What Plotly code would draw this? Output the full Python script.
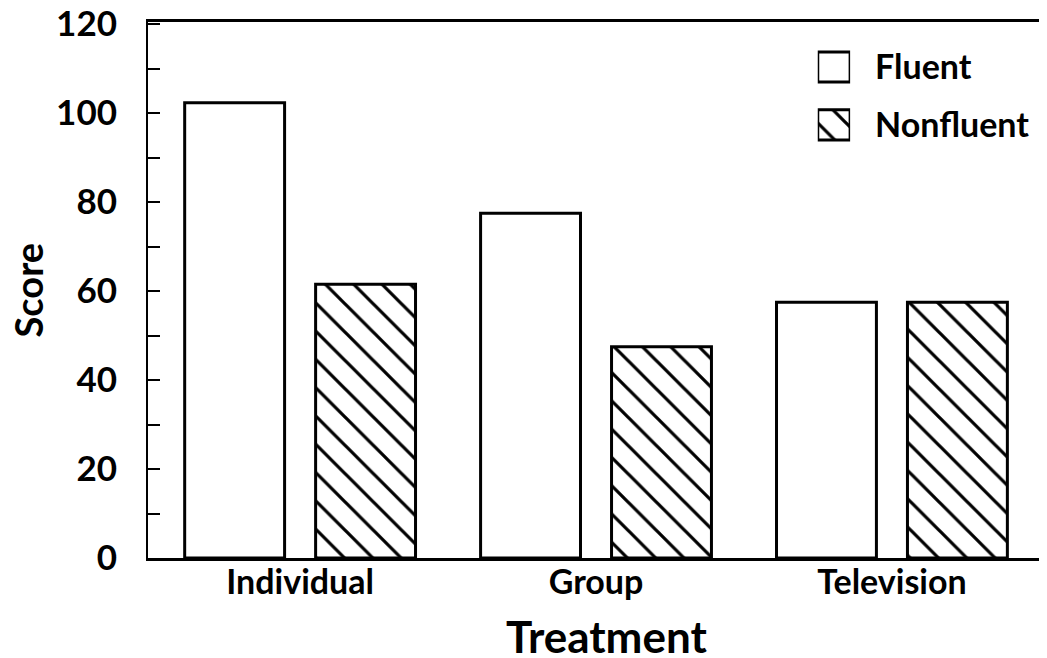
import plotly.graph_objects as go

categories = ["Individual", "Group", "Television"]
fluent = [102.3, 77.5, 57.5]
nonfluent = [61.5, 47.5, 57.5]
y_tick_vals = [0, 10, 20, 30, 40, 50, 60, 70, 80, 90, 100, 110, 120]
y_tick_text = ["0", "", "20", "", "40", "", "60", "", "80", "", "100", "", "120"]
legend_names = ["Fluent", "Nonfluent"]
legend_len = [1, 1]
x_title = "Treatment"
y_title = "Score"

FONT = "Lato, Roboto, sans-serif"
HATCH = dict(shape="\\", size=20, solidity=0.16, fgcolor="#000000", bgcolor="#ffffff",
             fgopacity=1, fillmode="replace")
OUTLINE = dict(color="black", width=3)

fig = go.Figure()
fig.add_trace(go.Bar(
    x=categories, y=fluent, name="Fluent", showlegend=False,
    marker=dict(color="white", line=OUTLINE),
))
fig.add_trace(go.Bar(
    x=categories, y=nonfluent, name="Nonfluent", showlegend=False,
    marker=dict(color="white", line=OUTLINE, pattern=HATCH),
))
# legend swatches drawn on a small key axis
fig.add_trace(go.Bar(
    y=[legend_names[0]], x=[legend_len[0]], orientation="h", xaxis="x2", yaxis="y2",
    showlegend=False, hoverinfo="skip",
    marker=dict(color="white", line=OUTLINE),
))
fig.add_trace(go.Bar(
    y=[legend_names[1]], x=[legend_len[1]], orientation="h", xaxis="x2", yaxis="y2",
    showlegend=False, hoverinfo="skip",
    marker=dict(color="white", line=OUTLINE, pattern=HATCH),
))

fig.update_layout(
    width=1039, height=650,
    margin=dict(l=140, r=0, t=14, b=100),
    paper_bgcolor="white", plot_bgcolor="white",
    barmode="group", bargap=0.115, bargroupgap=0.237,
    font=dict(family=FONT, color="black", size=34, weight="bold"),
    xaxis=dict(
        range=[-0.514, 2.524],
        showline=True, linecolor="black", linewidth=3, mirror=True,
        showgrid=False, ticks="", automargin=False,
        tickfont=dict(size=34, family=FONT, weight="bold"),
        ticklabelstandoff=-8,
    ),
    yaxis=dict(
        range=[0, 120.45], showline=True, linecolor="black", linewidth=2,
        showgrid=False, zeroline=False, automargin=False,
        tickmode="array", tickvals=y_tick_vals, ticktext=y_tick_text,
        ticks="inside", ticklen=12, tickwidth=2, tickcolor="black",
        ticklabelstandoff=22, ticklabeloverflow="allow",
        tickfont=dict(size=35, family=FONT, weight="bold"),
    ),
    xaxis2=dict(domain=[0.745, 0.781], anchor="y2", range=[0, 1],
                visible=False, fixedrange=True),
    yaxis2=dict(domain=[0.754, 0.970], anchor="x2", side="right",
                autorange="reversed", type="category",
                showline=False, showgrid=False, zeroline=False, ticks="",
                ticklabelstandoff=24, automargin=False, fixedrange=True,
                tickfont=dict(size=34, family=FONT, weight="bold")),
    annotations=[
        dict(text=x_title, xref="paper", yref="paper", x=0.5095, y=-0.146,
             xanchor="center", yanchor="middle", showarrow=False,
             font=dict(size=44, family=FONT, weight="bold", color="black")),
        dict(text=y_title, xref="paper", yref="paper", x=-0.133, y=0.5,
             xanchor="center", yanchor="middle", showarrow=False, textangle=-90,
             font=dict(size=38, family=FONT, weight="bold", color="black")),
    ],
)
fig.update_traces(selector=dict(xaxis="x2"), width=0.52)

fig.write_html("out.html")
